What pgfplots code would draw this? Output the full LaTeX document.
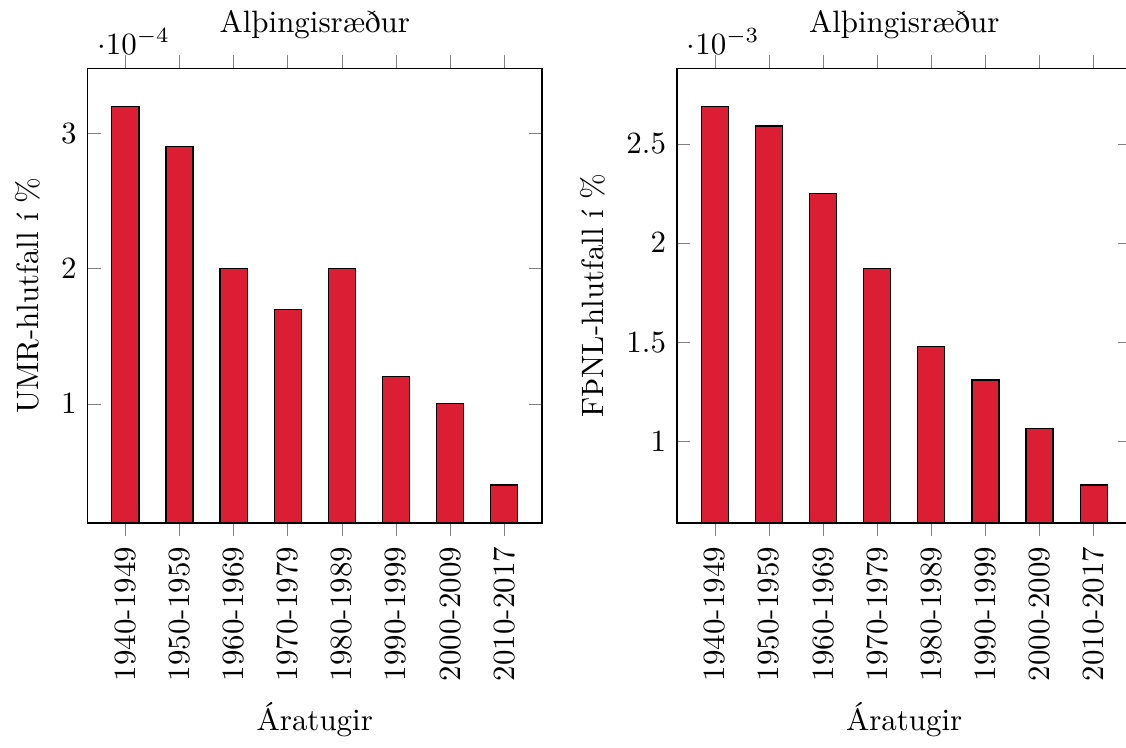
\documentclass[border=0pt]{standalone}
\usepackage{pgfplots}
\pgfplotsset{compat=1.18}
\definecolor{barred}{RGB}{220,30,53}
\pgfplotsset{
  decade/.style={
    ybar,
    scale only axis,
    width=147pt,
    height=147pt,
    bar width=0.5,
    xtick=data,
    xticklabels={1940-1949,1950-1959,1960-1969,1970-1979,1980-1989,1990-1999,2000-2009,2010-2017},
    x tick label style={rotate=90,anchor=east},
    xlabel={Áratugir},
    title={Alþingisræður},
  }
}
\begin{document}
\begin{tikzpicture}
\begin{axis}[decade, ylabel={UMR-hlutfall í \%}]
\addplot[fill=barred, draw=black] coordinates {
(0,3.2e-4) (1,2.9e-4) (2,2.0e-4) (3,1.7e-4) (4,2.0e-4) (5,1.2e-4) (6,1.0e-4) (7,0.4e-4)};
\end{axis}
\begin{axis}[decade, at={(190.6pt,0)}, ylabel={FÞNL-hlutfall í \%}]
\addplot[fill=barred, draw=black] coordinates {
(0,2.69e-3) (1,2.59e-3) (2,2.25e-3) (3,1.87e-3) (4,1.48e-3) (5,1.31e-3) (6,1.065e-3) (7,0.78e-3)};
\end{axis}
\coordinate (bbsw) at (current bounding box.south west);
\coordinate (bbne) at (current bounding box.north east);
\pgfresetboundingbox
\useasboundingbox ([xshift=-1.5pt]bbsw) rectangle ([xshift=-2pt]bbne);
\end{tikzpicture}
\end{document}
